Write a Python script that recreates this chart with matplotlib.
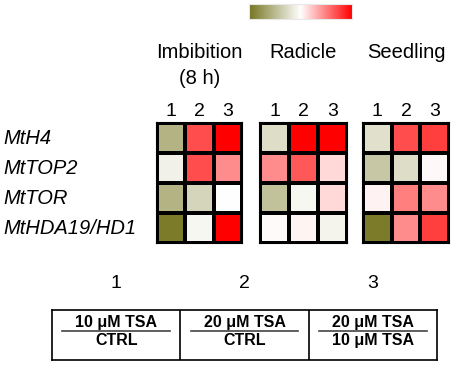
import numpy as np
import matplotlib
matplotlib.use("Agg")
import matplotlib.pyplot as plt
from matplotlib.colors import LinearSegmentedColormap

plt.rcParams['font.family'] = ['Liberation Sans', 'DejaVu Sans']

# Datos
genes = ["MtH4", "MtTOP2", "MtTOR", "MtHDA19/HD1"]
stages = ["Imbibition\n(8 h)", "Radicle", "Seedling"]
columns = ["1", "2", "3"]

imbibition = [[-0.55, 0.70, 1.00],
              [-0.10, 0.70, 0.45],
              [-0.55, -0.30, 0.00],
              [-0.95, -0.06, 1.00]]
radicle = [[-0.25, 1.00, 1.00],
           [0.45, 0.65, 0.15],
           [-0.45, -0.06, 0.15],
           [0.02, 0.04, -0.08]]
seedling = [[-0.22, 0.70, 0.75],
            [-0.40, -0.25, 0.03],
            [0.05, 0.50, 0.45],
            [-0.95, 0.45, 0.75]]

treat_num = ["10 \u03bcM TSA", "20 \u03bcM TSA", "20 \u03bcM TSA"]
treat_den = ["CTRL", "CTRL", "10 \u03bcM TSA"]

W, H = 454, 370
cmap = LinearSegmentedColormap.from_list("og", ["#757520", "#ffffff", "#ff0000"])

fig = plt.figure(figsize=(W / 100, H / 100), dpi=100)


def ax_px(x0, y0, x1, y1):
    return fig.add_axes([x0 / W, 1 - y1 / H, (x1 - x0) / W, (y1 - y0) / H])


# Barra de color
cax = ax_px(249, 4, 352, 19)
cax.imshow(np.linspace(-1, 1, 256)[None, :], cmap=cmap, aspect='auto')
cax.set_xticks([])
cax.set_yticks([])
for s in cax.spines.values():
    s.set_color('#e8e8e8')
    s.set_linewidth(0.8)

# Mapas de calor
panels = [(157, 242), (260, 347), (363, 449)]
for (x0, x1), data, title in zip(panels, [imbibition, radicle, seedling], stages):
    ax = ax_px(x0, 123, x1, 243)
    ax.pcolormesh(np.array(data), cmap=cmap, vmin=-1, vmax=1,
                  edgecolors='black', linewidth=1.5)
    ax.set_xlim(0, 3)
    ax.set_ylim(4, 0)
    ax.set_yticks([])
    ax.set_xticks([0.5, 1.5, 2.5])
    ax.set_xticklabels(columns, fontsize=14)
    ax.xaxis.tick_top()
    ax.tick_params(axis='x', length=0, pad=2)
    for s in ax.spines.values():
        s.set_linewidth(1.5)
    lines = title.split("\n")
    fig.text((x0 + x1) / 2 / W, 1 - 52 / H, lines[0], fontsize=14.5,
             ha='center', va='center')
    if len(lines) > 1:
        fig.text((x0 + x1) / 2 / W, 1 - 79 / H, lines[1], fontsize=14.5,
                 ha='center', va='center')

# Etiquetas de genes
for i, g in enumerate(genes):
    fig.text(3 / W, 1 - (138 + 30 * i) / H, g, fontsize=14.5, style='italic',
             ha='left', va='center')

# Leyenda de tratamientos
bax = ax_px(52, 310, 437, 360)
bax.set_xlim(0, 3)
bax.set_ylim(0, 1)
bax.set_xticks([])
bax.set_yticks([])
for s in bax.spines.values():
    s.set_linewidth(1.2)
for k in range(3):
    if k > 0:
        bax.axvline(k, color='black', linewidth=1.2)
    bax.text(k + 0.5, 0.76, treat_num[k], fontsize=11.5, fontweight='bold',
             ha='center', va='center')
    bax.plot([k + 0.08, k + 0.92], [0.58, 0.58], color='#444444', linewidth=1.2)
    bax.text(k + 0.5, 0.39, treat_den[k], fontsize=11.5, fontweight='bold',
             ha='center', va='center')
    fig.text((52 + (k + 0.5) * 385 / 3) / W, 1 - 283 / H, columns[k],
             fontsize=14, ha='center', va='center')

fig.savefig("out.png", dpi=100)
